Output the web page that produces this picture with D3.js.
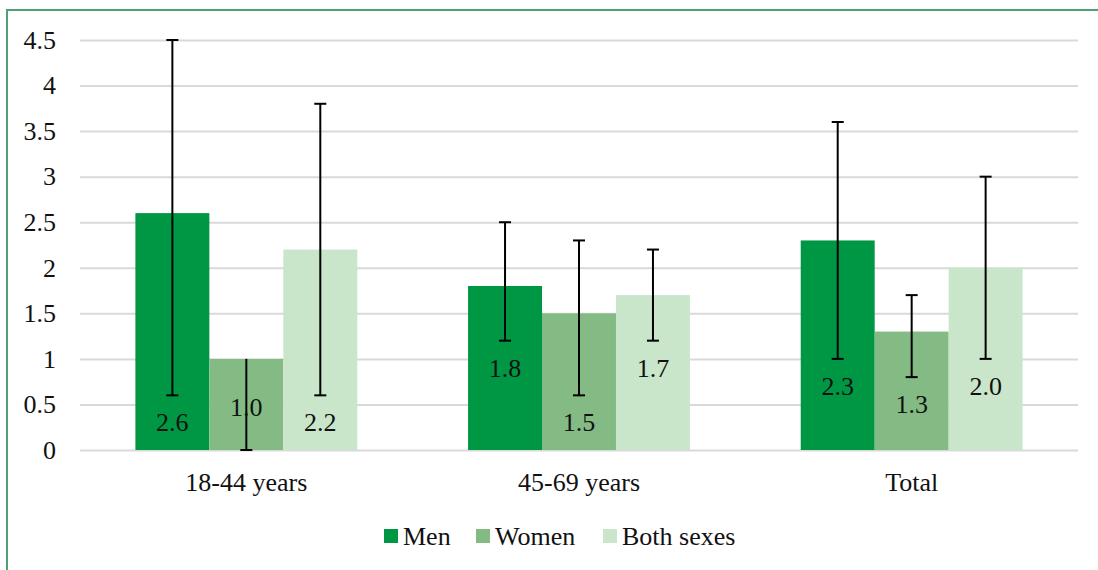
<!DOCTYPE html>
<html><head><meta charset="utf-8">
<script src="https://cdn.jsdelivr.net/npm/d3@7"></script>
<style>body{margin:0;background:#fff}svg{display:block}</style>
</head><body>
<svg id="c" width="1098" height="570"></svg>
<script>
const categories = ["18-44 years", "45-69 years", "Total"];
const seriesNames = ["Men", "Women", "Both sexes"];
const men = [2.6, 1.8, 2.3];
const women = [1.0, 1.5, 1.3];
const both = [2.2, 1.7, 2.0];
const menLow = [0.6, 1.2, 1.0], menHigh = [4.5, 2.5, 3.6];
const womenLow = [0.0, 0.6, 0.8], womenHigh = [1.0, 2.3, 1.7];
const bothLow = [0.6, 1.2, 1.0], bothHigh = [3.8, 2.2, 3.0];
const yTicks = [0, 0.5, 1, 1.5, 2, 2.5, 3, 3.5, 4, 4.5];
const colors = ["#009744", "#84bb84", "#c9e6ca"];

const FONT = '"Liberation Serif","Times New Roman","DejaVu Serif",serif';
const FS = 26;
const values = [men, women, both];
const lows = [menLow, womenLow, bothLow];
const highs = [menHigh, womenHigh, bothHigh];

const svg = d3.select("#c").attr("font-family", FONT);
svg.append("rect").attr("x", 7).attr("y", 10).attr("width", 1200).attr("height", 700)
  .attr("fill", "none").attr("stroke", "#4ca272").attr("stroke-width", 2);

const L = 80, R = 1078, T = 40, B = 450;
const x0 = d3.scaleBand().domain(categories).range([L, R]).paddingInner(0.333).paddingOuter(0.1665);
const x1 = d3.scaleBand().domain(seriesNames).range([0, x0.bandwidth()]);
const y = d3.scaleLinear().domain([0, 4.5]).range([B, T]);

const yAxis = d3.axisLeft(y).tickValues(yTicks).tickFormat(d => String(d)).tickSize(-(R - L)).tickPadding(24);
const gy = svg.append("g").attr("transform", `translate(${L},0)`).call(yAxis)
  .attr("font-family", FONT).attr("font-size", FS);
gy.select(".domain").remove();
gy.selectAll(".tick line").attr("stroke", "#d9d9d9").attr("stroke-width", 2);
gy.selectAll(".tick text").attr("fill", "#111");

const rows = [];
categories.forEach((c, i) => seriesNames.forEach((s, j) => rows.push({c, s, j, v: values[j][i], lo: lows[j][i], hi: highs[j][i]})));
const g = svg.append("g");
g.selectAll("rect.bar").data(rows).join("rect").attr("class", "bar")
  .attr("x", d => x0(d.c) + x1(d.s)).attr("width", x1.bandwidth())
  .attr("y", d => y(d.v)).attr("height", d => y(0) - y(d.v))
  .attr("fill", d => colors[d.j]);

const cx = d => x0(d.c) + x1(d.s) + x1.bandwidth() / 2;
const eb = g.selectAll("g.err").data(rows).join("g").attr("class", "err").attr("stroke", "#000").attr("stroke-width", 2);
eb.append("line").attr("x1", cx).attr("x2", cx).attr("y1", d => y(d.lo)).attr("y2", d => y(d.hi));
eb.filter(d => d.lo > 0).append("line").attr("x1", d => cx(d) - 6).attr("x2", d => cx(d) + 6).attr("y1", d => y(d.hi)).attr("y2", d => y(d.hi));
eb.append("line").attr("x1", d => cx(d) - 6).attr("x2", d => cx(d) + 6).attr("y1", d => y(d.lo)).attr("y2", d => y(d.lo));

g.selectAll("text.val").data(rows).join("text").attr("class", "val")
  .attr("x", cx)
  .attr("y", d => {
    let yc = y(d.lo) + 27;
    if (yc > y(0) - 14) yc = (y(d.v) + y(0)) / 2 + 2;
    return yc;
  })
  .attr("dy", "0.35em").attr("text-anchor", "middle").attr("font-size", FS).attr("fill", "#111")
  .text(d => d.v.toFixed(1));

const xAxis = d3.axisBottom(x0).tickSize(0);
const gx = svg.append("g").attr("transform", `translate(0,${B})`).call(xAxis)
  .attr("font-family", FONT).attr("font-size", FS);
gx.select(".domain").remove();
gx.selectAll(".tick text").attr("fill", "#111").attr("y", 32).attr("dy", "0.35em");

const legX = [384, 476, 603];
const lg = svg.append("g").selectAll("g").data(seriesNames).join("g")
  .attr("transform", (d, i) => `translate(${legX[i]},529)`);
lg.append("rect").attr("width", 14).attr("height", 14).attr("fill", (d, i) => colors[i]);
lg.append("text").attr("x", 19).attr("y", 7).attr("dy", "0.35em").attr("font-size", FS).attr("fill", "#111").text(d => d);
</script>
</body></html>
